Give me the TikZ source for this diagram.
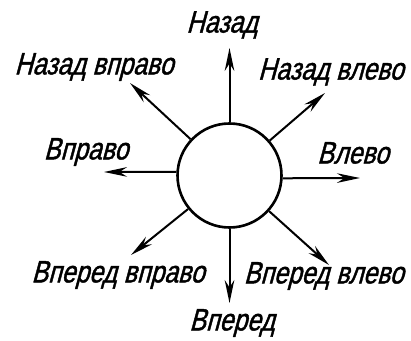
\documentclass[tikz,border=0pt]{standalone}
\usepackage{fontspec}
\setmainfont{Liberation Sans}
\newfontfamily\gostfont[FakeStretch=0.8,FakeBold=1.3,FakeSlant=0.27]{Liberation Sans}
\usetikzlibrary{arrows.meta}

\begin{document}
\begin{tikzpicture}[x=0.5pt,y=-0.5pt,
  wheel/.style={circle,draw,line width=1.3pt,minimum size=52pt,inner sep=0pt},
  dir/.style={line width=1pt,-{Stealth[length=11.5pt,width=4.8pt]}},
  lbl/.style={font=\gostfont\fontsize{15.5}{18}\selectfont,inner sep=0pt}
]
  \useasboundingbox (0,0) rectangle (411,341);
  \node[wheel] (c) at (229.5,175.5) {};
  \coordinate (tN)  at (229.5,48);
  \coordinate (tS)  at (229.5,303);
  \coordinate (tW)  at (104,172);
  \coordinate (tE)  at (360,178);
  \coordinate (tNW) at (130,83);
  \coordinate (tNE) at (325,93);
  \coordinate (tSW) at (131,255);
  \coordinate (tSE) at (329,265);
  \draw[dir] (c.90)  -- (tN);
  \draw[dir] (c.270) -- (tS);
  \draw[dir] (c.176) -- (tW);
  \draw[dir] (c.357) -- (tE);
  \draw[dir] (c.137) -- (tNW);
  \draw[dir] (c.41)  -- (tNE);
  \draw[dir] (c.219) -- (tSW);
  \draw[dir] (c.318) -- (tSE);
  \node[lbl] (lN)  at (222,25)  {Назад};
  \node[lbl] (lNW) at (94,67)   {Назад вправо};
  \node[lbl,anchor=east] (lNE) at (404,72)  {Назад влево};
  \node[lbl] (lW)  at (86,152)  {Вправо};
  \node[lbl] (lE)  at (353,153) {Влево};
  \node[lbl] (lSW) at (118,275) {Вперед вправо};
  \node[lbl,anchor=east] (lSE) at (404,276) {Вперед влево};
  \node[lbl] (lS)  at (232,323) {Вперед};
\end{tikzpicture}
\end{document}
